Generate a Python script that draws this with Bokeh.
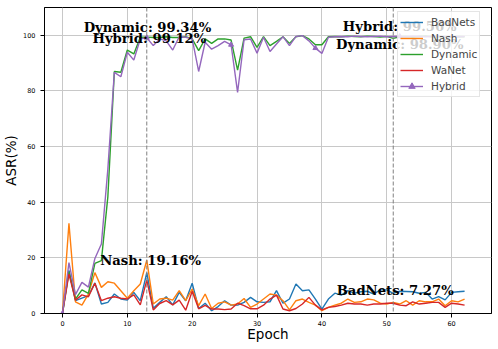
from bokeh.plotting import figure
from bokeh.models import Range1d, Span, Legend, LegendItem, FixedTicker, Label
from bokeh.embed import file_html
from bokeh.resources import INLINE

epochs = list(range(63))

badnets = [0, 15.5, 4.6, 5.5, 6.4, 11.0, 3.4, 4.0, 7.0, 5.2,
           4.8, 7.6, 4.6, 14.7, 1.9, 4.0, 6.0, 3.1, 7.6, 4.6,
           10.9, 1.8, 3.7, 1.0, 2.5, 4.6, 3.0, 3.0, 4.0, 5.8,
           4.2, 4.0, 4.2, 8.2, 3.7, 5.2, 10.6, 8.2, 8.5, 5.2,
           1.6, 5.2, 7.3, 6.6, 8.2, 7.3, 7.8, 8.0, 7.0, 8.5,
           8.5, 7.27, 8.0, 7.9, 7.8, 7.3, 7.6, 5.2, 6.1, 4.9,
           7.6, 7.8, 8.0]
nash = [0, 32.4, 4.2, 3.0, 7.0, 14.7, 9.4, 11.4, 10.9, 8.2,
        5.5, 8.2, 10.6, 19.16, 3.4, 5.2, 5.5, 4.8, 8.2, 4.6,
        8.8, 2.8, 7.0, 1.8, 3.7, 4.2, 3.0, 3.4, 5.4, 2.2,
        3.4, 5.2, 7.0, 6.6, 4.6, 1.3, 4.6, 5.2, 4.0, 3.0,
        1.0, 2.2, 3.0, 3.7, 5.2, 4.0, 4.2, 5.2, 4.9, 3.7,
        3.4, 4.0, 3.4, 4.6, 3.0, 4.6, 4.2, 4.2, 5.2, 2.8,
        4.6, 4.2, 5.2]
dynamic = [0, 15.0, 5.2, 8.5, 7.2, 18.0, 19.0, 42.0, 87.0, 86.7,
           94.7, 93.3, 99.3, 99.34, 99.2, 99.2, 99.5, 99.2, 99.2, 99.5,
           98.7, 94.5, 98.7, 97.1, 98.7, 98.7, 98.3, 87.5, 99.0, 99.5,
           95.7, 99.5, 96.3, 97.8, 99.5, 97.1, 99.5, 99.9, 98.7, 96.6,
           96.6, 99.5, 99.6, 99.5, 99.7, 99.6, 99.5, 99.7, 99.6, 99.4,
           99.6, 98.90, 99.5, 99.6, 99.4, 99.6, 99.7, 99.5, 99.6, 99.5,
           99.4, 99.6, 99.5]
wanet = [0, 14.2, 4.8, 6.7, 6.0, 10.9, 4.6, 5.5, 6.0, 5.5,
         5.2, 6.7, 3.1, 12.0, 1.3, 3.6, 4.6, 3.1, 4.8, 1.2,
         8.0, 1.7, 2.9, 1.6, 1.6, 1.4, 1.6, 3.7, 2.8, 1.7,
         1.7, 3.0, 5.2, 6.6, 1.6, 1.0, 1.8, 3.4, 5.8, 3.0,
         1.3, 2.2, 2.5, 3.0, 3.7, 3.4, 3.4, 3.0, 3.4, 3.4,
         3.7, 3.7, 3.0, 2.8, 4.2, 3.4, 3.7, 4.0, 4.0, 2.2,
         3.7, 3.4, 3.0]
hybrid = [0, 18.3, 6.8, 11.2, 9.5, 19.8, 25.0, 52.0, 86.7, 85.1,
          93.9, 91.1, 98.7, 99.12, 96.3, 98.7, 98.0, 94.7, 99.5, 99.3,
          98.7, 87.0, 97.5, 95.0, 96.3, 97.8, 96.6, 79.5, 98.4, 98.7,
          93.6, 99.3, 94.2, 96.9, 99.5, 96.3, 99.6, 99.9, 98.0, 95.4,
          93.5, 99.3, 99.5, 99.6, 99.5, 99.7, 99.6, 99.5, 99.6, 99.7,
          99.5, 99.56, 99.6, 99.5, 99.7, 99.6, 99.5, 99.6, 99.7, 99.5,
          99.6, 99.5, 99.6]

series_names = ["BadNets", "Nash", "Dynamic", "WaNet", "Hybrid"]
series_values = [badnets, nash, dynamic, wanet, hybrid]
series_colors = ["#1f77b4", "#ff7f0e", "#2ca02c", "#d62728", "#9467bd"]

marker_every = 13
mark_epochs = [13, 51]
x_ticks = [0, 10, 20, 30, 40, 50, 60]
y_ticks = [0, 20, 40, 60, 80, 100]

# annotations: (series, epoch, text x, vertical offset of baseline)
annotations = [("Dynamic", 13, 13.1, 3.6), ("Hybrid", 13, 13.4, -0.3),
               ("Nash", 13, 13.6, 0.0), ("Hybrid", 51, 52.0, 3.5),
               ("Dynamic", 51, 52.0, -2.1), ("BadNets", 51, 51.3, 0.9)]

p = figure(width=498, height=349, output_backend="svg", toolbar_location=None,
           x_range=Range1d(-2.77, 66.15), y_range=Range1d(0, 110),
           min_border_left=43, min_border_right=7, min_border_top=7,
           min_border_bottom=36)

p.background_fill_color = "white"
p.border_fill_color = "white"
p.outline_line_color = "black"
p.outline_line_width = 1

for ax in (p.xaxis, p.yaxis):
    ax.axis_line_color = "black"
    ax.major_tick_line_color = "black"
    ax.major_tick_out = 4
    ax.major_tick_in = 0
    ax.minor_tick_line_color = None
    ax.major_label_text_font = "DejaVu Sans"
    ax.major_label_text_font_size = "6.5px"
    ax.major_label_text_color = "black"
    ax.axis_label_text_font = "DejaVu Sans"
    ax.axis_label_text_font_size = "13.5px"
    ax.axis_label_text_font_style = "normal"
    ax.axis_label_text_color = "black"

p.xaxis.major_label_standoff = 3
p.xaxis.axis_label_standoff = -3
p.yaxis.major_label_standoff = 5
p.yaxis.axis_label_standoff = 1

p.xaxis.ticker = FixedTicker(ticks=x_ticks)
p.yaxis.ticker = FixedTicker(ticks=y_ticks)
p.xaxis.axis_label = "Epoch"
p.yaxis.axis_label = "ASR(%)"

p.xgrid.ticker = FixedTicker(ticks=x_ticks)
p.ygrid.ticker = FixedTicker(ticks=y_ticks)
for g in (p.xgrid, p.ygrid):
    g.grid_line_color = "#c8c8c8"
    g.grid_line_width = 1

for ep in mark_epochs:
    p.add_layout(Span(location=ep, dimension="height", line_color="#808080",
                      line_dash="4 2", line_width=1))

items = []
for name, vals, col in zip(series_names, series_values, series_colors):
    r = p.line(epochs, vals, line_color=col, line_width=1.4)
    rs = [r]
    if name == "Hybrid":
        m = p.scatter(epochs[::marker_every], vals[::marker_every], marker="triangle",
                      size=5, fill_color=col, line_color=col)
        rs.append(m)
    items.append(LegendItem(label=name, renderers=rs))

lookup = dict(zip(series_names, series_values))
for name, ep, tx, off in annotations:
    v = lookup[name][ep]
    p.add_layout(Label(x=tx, y=v + off, text=f"{name}: {v:.2f}%",
                       text_font="DejaVu Serif", text_font_style="bold",
                       text_font_size="13.2px", text_align="center",
                       text_baseline="alphabetic", text_color="black"))

legend = Legend(items=items, location=(353, 216), margin=0, padding=2, spacing=0,
                glyph_width=23, glyph_height=16, label_height=16, label_standoff=8,
                label_text_font="DejaVu Sans", label_text_font_size="10.5px",
                border_line_color="#cccccc", border_line_width=1,
                background_fill_color="white", background_fill_alpha=0.8)
p.add_layout(legend)

open("out.html", "w").write(file_html(p, INLINE))
